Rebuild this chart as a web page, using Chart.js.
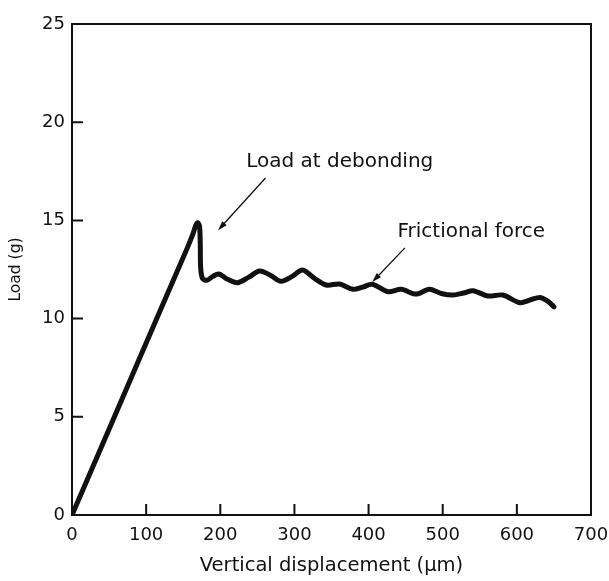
<!DOCTYPE html>
<html>
<head>
<meta charset="utf-8">
<script src="https://cdn.jsdelivr.net/npm/chart.js@4/dist/chart.umd.min.js"></script>
<style>
  html, body { margin: 0; padding: 0; background: #fff; }
  #wrap { width: 609px; height: 581px; }
</style>
</head>
<body>
<div id="wrap"><canvas id="loadChart" width="609" height="581"></canvas></div>
<script>
// Load vs vertical displacement curve
const displacement = [0, 60, 120, 155, 163, 167, 169.5, 172, 173, 173.5, 176, 182, 190, 198, 210, 223,
  238, 253, 268, 282, 297, 311, 327, 343, 361, 379, 392, 405, 426, 444, 464, 482, 498, 514, 528,
  541, 561, 581, 604, 618, 631, 641, 650];
const load = [0, 5.25, 10.5, 13.55, 14.3, 14.75, 14.88, 14.7, 13.8, 12.6, 12.05, 11.95, 12.15, 12.27, 12.0, 11.83,
  12.1, 12.42, 12.2, 11.9, 12.15, 12.47, 12.05, 11.71, 11.76, 11.49, 11.6, 11.75, 11.37, 11.49, 11.25, 11.49, 11.28, 11.2, 11.3,
  11.42, 11.15, 11.2, 10.81, 10.95, 11.08, 10.9, 10.6];

const xTicks = [0, 100, 200, 300, 400, 500, 600, 700];
const yTicks = [0, 5, 10, 15, 20, 25];

// annotations: text anchor and arrow (tail -> head), in data units
const notes = [
  { text: "Load at debonding", x: 235, y: 18.0, from: [261, 17.16], to: [197, 14.5] },
  { text: "Frictional force", x: 439, y: 14.4, from: [449, 13.6], to: [405, 11.86] }
];

const points = displacement.map((d, i) => ({ x: d, y: load[i] }));

// frame, inward ticks and the two labelled arrows
const decorations = {
  id: "decorations",
  afterDatasetsDraw(chart) {
    const { ctx, chartArea: a, scales: { x, y } } = chart;
    ctx.save();
    ctx.strokeStyle = "#111";
    ctx.lineWidth = 2;
    ctx.strokeRect(a.left, a.top, a.right - a.left, a.bottom - a.top);

    ctx.beginPath();
    xTicks.slice(1, -1).forEach(v => {
      const px = x.getPixelForValue(v);
      ctx.moveTo(px, a.bottom);
      ctx.lineTo(px, a.bottom - 11);
    });
    yTicks.slice(1, -1).forEach(v => {
      const py = y.getPixelForValue(v);
      ctx.moveTo(a.left, py);
      ctx.lineTo(a.left + 11, py);
    });
    ctx.stroke();

    ctx.fillStyle = "#111";
    ctx.font = "20px 'DejaVu Sans'";
    ctx.textBaseline = "middle";
    ctx.textAlign = "left";
    ctx.lineWidth = 1.3;
    notes.forEach(n => {
      ctx.fillText(n.text, x.getPixelForValue(n.x), y.getPixelForValue(n.y));
      const x1 = x.getPixelForValue(n.from[0]), y1 = y.getPixelForValue(n.from[1]);
      const x2 = x.getPixelForValue(n.to[0]), y2 = y.getPixelForValue(n.to[1]);
      const ang = Math.atan2(y2 - y1, x2 - x1);
      ctx.beginPath();
      ctx.moveTo(x1, y1);
      ctx.lineTo(x2 - 6 * Math.cos(ang), y2 - 6 * Math.sin(ang));
      ctx.stroke();
      ctx.beginPath();
      ctx.moveTo(x2, y2);
      ctx.lineTo(x2 - 10 * Math.cos(ang - 0.3), y2 - 10 * Math.sin(ang - 0.3));
      ctx.lineTo(x2 - 10 * Math.cos(ang + 0.3), y2 - 10 * Math.sin(ang + 0.3));
      ctx.closePath();
      ctx.fill();
    });
    ctx.restore();
  }
};

new Chart(document.getElementById("loadChart"), {
  type: "line",
  data: {
    datasets: [{
      data: points,
      borderColor: "#111",
      borderWidth: 5,
      pointRadius: 0,
      tension: 0.3,
      fill: false,
      borderCapStyle: "round",
      borderJoinStyle: "round"
    }]
  },
  options: {
    responsive: false,
    animation: false,
    layout: { padding: { left: 0, right: 18, top: 24, bottom: 0 } },
    plugins: { legend: { display: false }, tooltip: { enabled: false } },
    scales: {
      x: {
        type: "linear",
        min: 0,
        max: 700,
        afterBuildTicks: s => { s.ticks = xTicks.map(v => ({ value: v })); },
        afterFit: s => { s.height = 66; s.paddingLeft = 0; s.paddingRight = 0; },
        grid: { display: false, drawTicks: false },
        border: { display: false },
        ticks: { padding: 10, color: "#111", font: { family: "'DejaVu Sans'", size: 18 }, maxRotation: 0 },
        title: {
          display: true,
          text: "Vertical displacement (\u03bcm)",
          color: "#111",
          font: { family: "'DejaVu Sans'", size: 19.5 },
          padding: { top: 0, bottom: 3 }
        }
      },
      y: {
        min: 0,
        max: 25,
        afterBuildTicks: s => { s.ticks = yTicks.map(v => ({ value: v })); },
        afterFit: s => { s.width = 72; s.paddingTop = 0; s.paddingBottom = 0; },
        grid: { display: false, drawTicks: false },
        border: { display: false },
        ticks: { padding: 7, color: "#111", font: { family: "'DejaVu Sans'", size: 18 } },
        title: {
          display: true,
          text: "Load (g)",
          color: "#111",
          font: { family: "'DejaVu Sans'", size: 15.5 },
          padding: { top: 7, bottom: 0 }
        }
      }
    }
  },
  plugins: [decorations]
});
</script>
</body>
</html>
